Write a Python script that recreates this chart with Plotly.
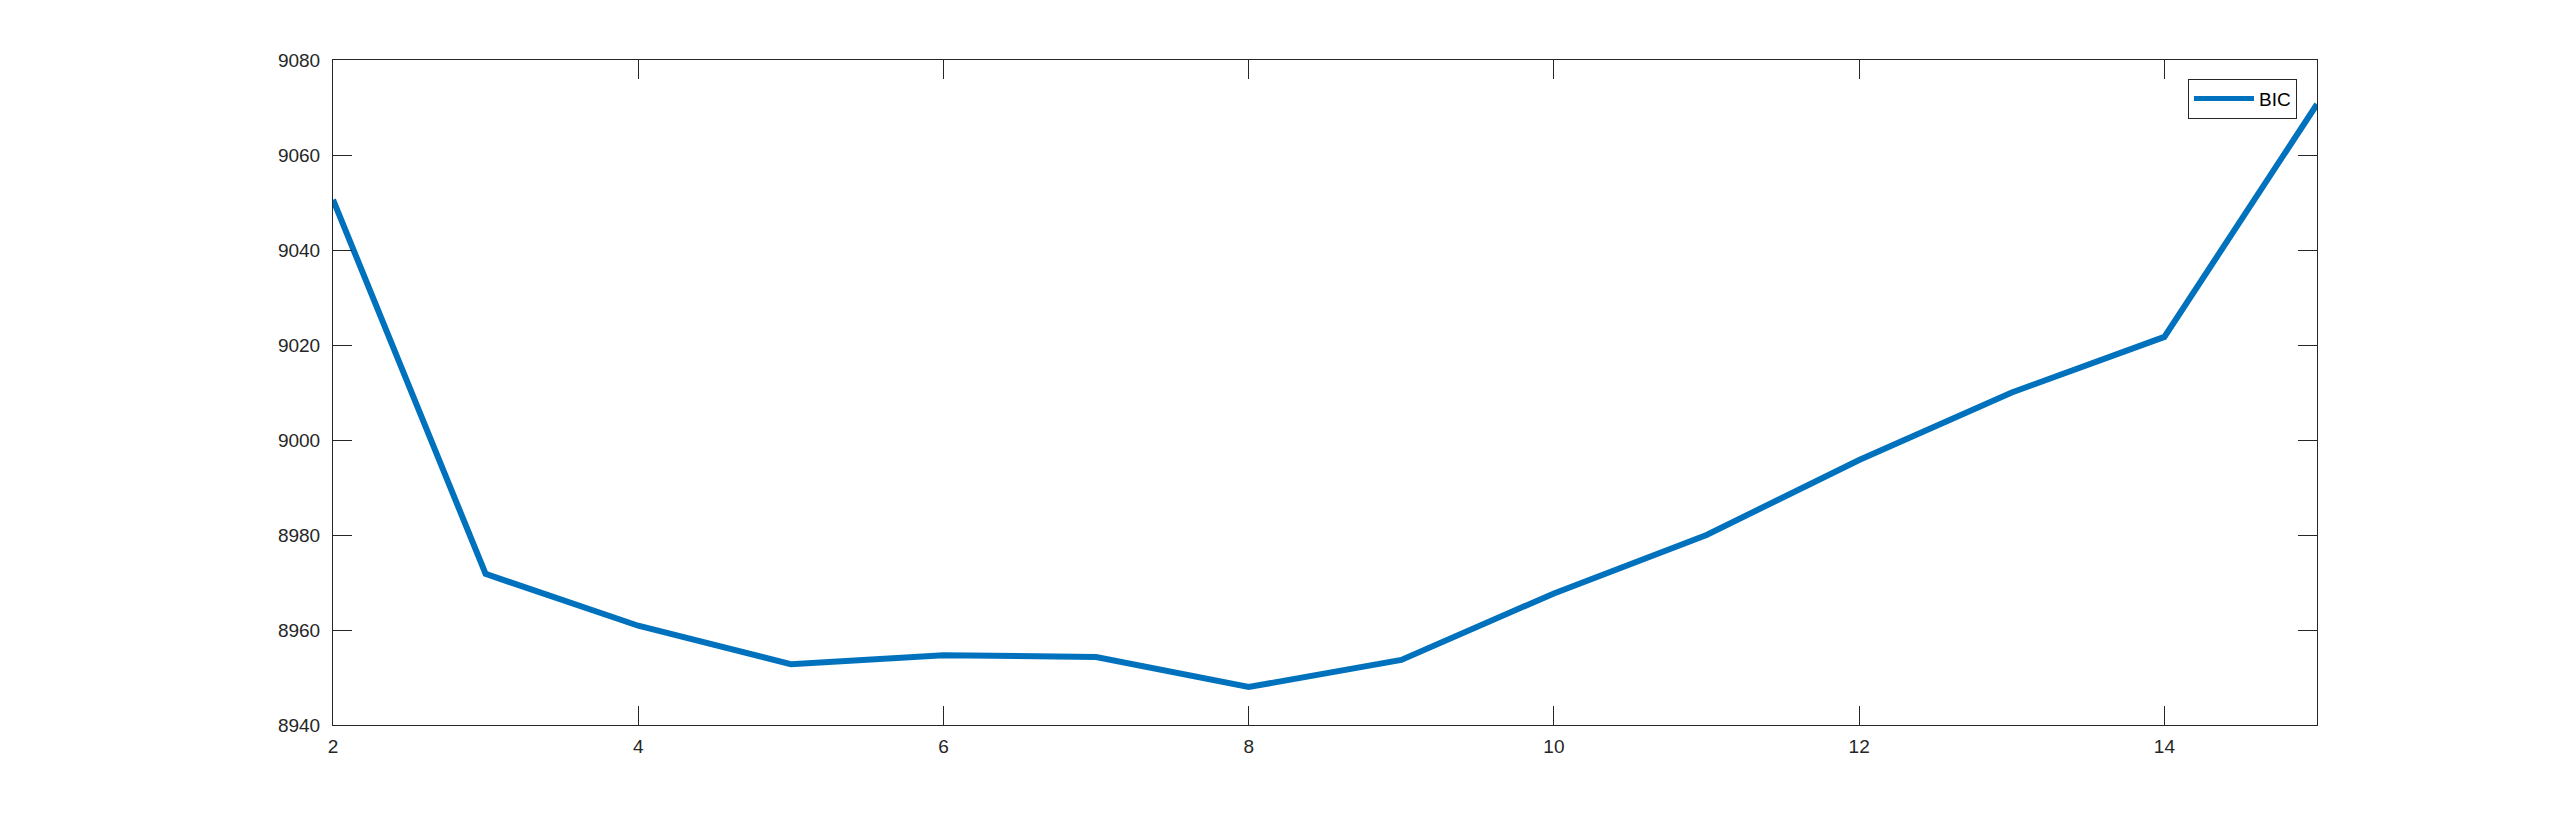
import plotly.graph_objects as go

k_values = [2, 3, 4, 5, 6, 7, 8, 9, 10, 11, 12, 13, 14, 15]
bic_values = [9050.6, 8971.8, 8960.9, 8952.8, 8954.7, 8954.3, 8948.0, 8953.7,
              8967.7, 8980.0, 8995.8, 9010.0, 9021.7, 9070.7]
x_ticks = [2, 4, 6, 8, 10, 12, 14]
y_ticks = [8940, 8960, 8980, 9000, 9020, 9040, 9060, 9080]

axis_color = "#262626"
font_family = "Liberation Sans, Arial, Helvetica, sans-serif"

fig = go.Figure()
fig.add_trace(go.Scatter(
    x=k_values, y=bic_values, mode="lines", name="BIC",
    line=dict(color="#0072BD", width=6),
))

fig.update_layout(
    width=2560, height=816,
    margin=dict(l=325, r=251, t=52, b=99, pad=0),
    paper_bgcolor="white", plot_bgcolor="white",
    font=dict(family=font_family, size=19, color=axis_color),
    showlegend=True,
    legend=dict(
        x=0.9899, y=0.9720, xanchor="right", yanchor="top",
        bgcolor="white", bordercolor=axis_color, borderwidth=1,
        font=dict(size=19, color="black"), itemwidth=60,
        tracegroupgap=0, itemsizing="constant",
    ),
)
fig.update_xaxes(
    range=[2, 15], tickvals=x_ticks, ticktext=[str(v) for v in x_ticks],
    showgrid=False, zeroline=False, showline=True, linecolor=axis_color,
    linewidth=1, mirror="ticks", ticks="inside", ticklen=19,
    tickcolor=axis_color, tickwidth=1, ticklabelstandoff=4,
)
fig.update_yaxes(
    range=[8940, 9080], tickvals=y_ticks, ticktext=[str(v) for v in y_ticks],
    showgrid=False, zeroline=False, showline=True, linecolor=axis_color,
    linewidth=1, mirror="ticks", ticks="inside", ticklen=19,
    tickcolor=axis_color, tickwidth=1, ticklabelstandoff=8,
)

fig.write_html("out.html")
